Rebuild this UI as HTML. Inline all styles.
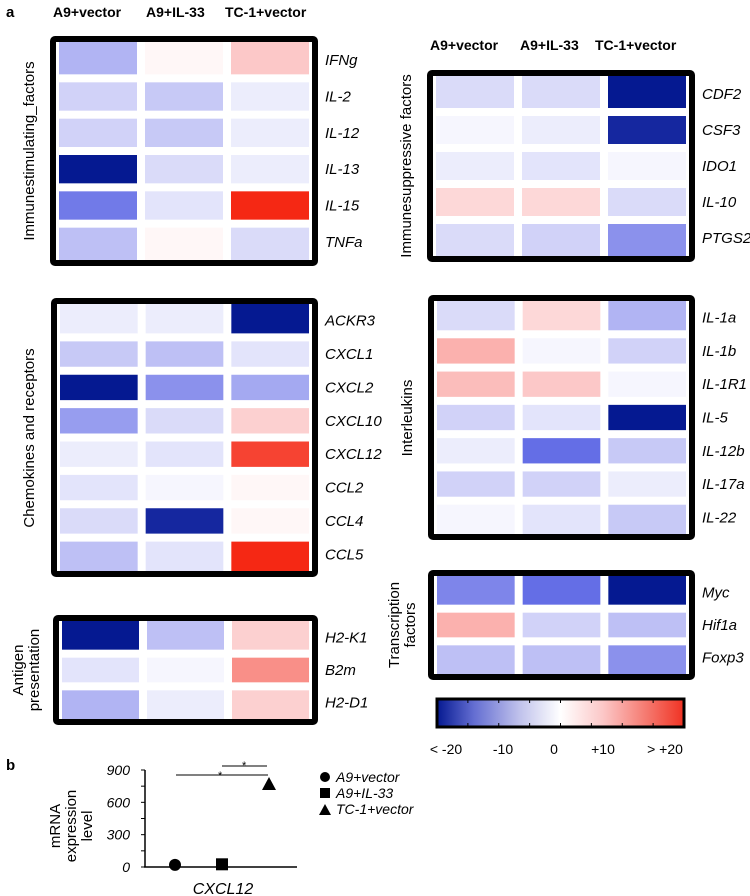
<!DOCTYPE html>
<html><head><meta charset="utf-8"><style>
body{margin:0;background:#fff;width:750px;height:896px;overflow:hidden}
svg{display:block;font-family:"Liberation Sans",sans-serif}
</style></head><body>
<svg id="fig" width="750" height="896" viewBox="0 0 750 896" xmlns="http://www.w3.org/2000/svg">
<defs>
<linearGradient id="cbar" x1="0" x2="1" y1="0" y2="0">
<stop offset="0" stop-color="rgb(5,25,145)"/><stop offset="0.15" stop-color="rgb(100,110,210)"/><stop offset="0.33" stop-color="rgb(190,192,235)"/><stop offset="0.5" stop-color="#fff"/><stop offset="0.67" stop-color="rgb(252,200,200)"/><stop offset="0.85" stop-color="rgb(245,120,110)"/><stop offset="1" stop-color="rgb(240,50,35)"/>
</linearGradient>
</defs>
<text x="6" y="17" font-size="15" font-weight="bold">a</text>
<g font-size="14" font-weight="bold">
<text x="53" y="17">A9+vector</text><text x="146" y="17">A9+IL-33</text><text x="225" y="17">TC-1+vector</text>
</g>
<g font-size="14" font-weight="bold">
<text x="430" y="50">A9+vector</text><text x="520" y="50">A9+IL-33</text><text x="595" y="50">TC-1+vector</text>
</g>
<g font-size="15">
<text transform="translate(34,151) rotate(-90)" text-anchor="middle">Immunestimulating_factors</text>
<text transform="translate(34,438) rotate(-90)" text-anchor="middle">Chemokines and receptors</text>
<text transform="translate(23,670) rotate(-90)" text-anchor="middle">Antigen</text>
<text transform="translate(39,670) rotate(-90)" text-anchor="middle">presentation</text>
<text transform="translate(411,166) rotate(-90)" text-anchor="middle">Immunesuppressive factors</text>
<text transform="translate(412,418) rotate(-90)" text-anchor="middle">Interleukins</text>
<text transform="translate(399,625) rotate(-90)" text-anchor="middle">Transcription</text>
<text transform="translate(415,625) rotate(-90)" text-anchor="middle">factors</text>
</g>
<g id="heat"></g>
<g>
<rect x="437" y="699" width="247" height="28" fill="url(#cbar)" stroke="#000" stroke-width="3"/>
<g id="cbticks"></g>
<g font-size="14" text-anchor="middle">
<text x="446" y="754">&lt; -20</text><text x="503" y="754">-10</text><text x="554" y="754">0</text><text x="603" y="754">+10</text><text x="665" y="754">&gt; +20</text>
</g>
</g>
<text x="6" y="770" font-size="15" font-weight="bold">b</text>
<g font-size="15" text-anchor="middle">
<text transform="translate(60,826) rotate(-90)">mRNA</text>
<text transform="translate(76,826) rotate(-90)">expression</text>
<text transform="translate(92,826) rotate(-90)">level</text>
</g>
<g id="scatter"></g>
<text x="223" y="894" font-size="16" font-style="italic" text-anchor="middle">CXCL12</text>
<g font-size="14" font-style="italic">
<circle cx="325" cy="777" r="5"/><text x="336" y="782">A9+vector</text>
<rect x="320" y="788" width="10" height="10"/><text x="336" y="798">A9+IL-33</text>
<polygon points="319,815 325,804 331,815"/><text x="336" y="814">TC-1+vector</text>
</g>
</svg>
<script>
const colKeys = ['A9+vector','A9+IL-33','TC-1+vector'];
const stimGenes = ['IFNg','IL-2','IL-12','IL-13','IL-15','TNFa'];
const stimA9 = [-8,-5,-5,-20,-13,-7];
const stimIL33 = [1,-6,-6,-4,-3,1];
const stimTC1 = [7,-2,-2,-2,20,-4];
const suppGenes = ['CDF2','CSF3','IDO1','IL-10','PTGS2'];
const suppA9 = [-4,-1,-2,5,-4];
const suppIL33 = [-4,-2,-3,5,-5];
const suppTC1 = [-20,-19,-1,-4,-11];
const chemGenes = ['ACKR3','CXCL1','CXCL2','CXCL10','CXCL12','CCL2','CCL4','CCL5'];
const chemA9 = [-2,-6,-20,-10,-2,-3,-4,-7];
const chemIL33 = [-2,-7,-11,-4,-3,-1,-19,-3];
const chemTC1 = [-20,-3,-9,6,18,1,1,20];
const ilGenes = ['IL-1a','IL-1b','IL-1R1','IL-5','IL-12b','IL-17a','IL-22'];
const ilA9 = [-4,9,8,-5,-2,-5,-1];
const ilIL33 = [5,-1,7,-3,-14,-5,-3];
const ilTC1 = [-8,-5,-1,-20,-6,-2,-6];
const tfGenes = ['Myc','Hif1a','Foxp3'];
const tfA9 = [-12,9,-7];
const tfIL33 = [-14,-5,-7];
const tfTC1 = [-20,-7,-11];
const agGenes = ['H2-K1','B2m','H2-D1'];
const agA9 = [-20,-3,-8];
const agIL33 = [-7,-1,-2];
const agTC1 = [6,12,6];
const cbTickVals = [-20,-15,-10,-5,0,5,10,15,20];
const scatterGroups = ['A9+vector','A9+IL-33','TC-1+vector'];
const scatterValues = [20,25,770];
const yTicks = [0,300,600,900];

const NS='http://www.w3.org/2000/svg';
function mk(tag,attrs,parent){const e=document.createElementNS(NS,tag);for(const k in attrs)e.setAttribute(k,attrs[k]);parent.appendChild(e);return e;}
const stops=[[-20,[5,25,145]],[-14,[100,110,230]],[-7,[190,192,245]],[0,[255,255,255]],[7,[252,200,200]],[14,[248,120,110]],[20,[245,40,20]]];
function color(v){v=Math.max(-20,Math.min(20,v));for(let i=0;i<stops.length-1;i++){const[a,ca]=stops[i],[b,cb]=stops[i+1];if(v<=b){const t=(v-a)/(b-a);return 'rgb('+ca.map((c,j)=>Math.round(c+(cb[j]-c)*t)).join(',')+')';}}return 'rgb(245,40,20)';}
const heat=document.getElementById('heat');
function panel(name,x,y,w,h,genes,cols){
  const g=mk('g',{},heat);
  
  
  const b=6,ix=x+b+3,iy=y+b,iw=w-2*b-6,ih=h-2*b,gap=8;
  const cw=(iw-2*gap)/3,rh=ih/genes.length;
  genes.forEach((gene,r)=>{
    cols.forEach((arr,c)=>{
      const cell=mk('rect',{x:ix+c*(cw+gap),y:iy+r*rh+(r?gap/2:0),width:cw,height:rh-(r?gap/2:0)-(r<genes.length-1?gap/2:0),fill:color(arr[r])},g);
      
      
    });
    const t=mk('text',{x:x+w+7,y:iy+r*rh+rh/2+5,'font-size':15,'font-style':'italic'},g);
    t.textContent=gene;
    
    
  });
  mk('rect',{x:x+b/2,y:y+b/2,width:w-b,height:h-b,fill:'none',stroke:'#000','stroke-width':b,rx:2},g);
}
panel('immunestimulating-heatmap',50,36,268,230,stimGenes,[stimA9,stimIL33,stimTC1]);
panel('immunesuppressive-heatmap',427,70,268,192,suppGenes,[suppA9,suppIL33,suppTC1]);
panel('chemokines-heatmap',51,298,267,279,chemGenes,[chemA9,chemIL33,chemTC1]);
panel('antigen-heatmap',53,615,265,110,agGenes,[agA9,agIL33,agTC1]);
panel('interleukins-heatmap',428,295,267,245,ilGenes,[ilA9,ilIL33,ilTC1]);
panel('transcription-heatmap',428,570,267,110,tfGenes,[tfA9,tfIL33,tfTC1]);

const cbt=document.getElementById('cbticks');
cbTickVals.forEach(v=>{const x=437+(v+20)/40*247;mk('line',{x1:x,x2:x,y1:699,y2:703,stroke:'#000','stroke-width':1},cbt);mk('line',{x1:x,x2:x,y1:723,y2:727,stroke:'#000','stroke-width':1},cbt);});

const sc=document.getElementById('scatter');
const yS=v=>867-v*(97/900);
const xS=i=>175+i*47;
const ax=mk('line',{x1:145,x2:145,y1:770,y2:867,stroke:'#000','stroke-width':1.5},sc);


const xa=mk('line',{x1:144,x2:297,y1:867,y2:867,stroke:'#000','stroke-width':1.5},sc);


for(let v=0;v<=900;v+=150){mk('line',{x1:141,x2:145,y1:yS(v),y2:yS(v),stroke:'#000','stroke-width':1},sc);}
yTicks.forEach(v=>{const t=mk('text',{x:130,y:yS(v)+5,'font-size':14,'font-style':'italic','text-anchor':'end'},sc);t.textContent=v;});
scatterValues.forEach((v,i)=>{
  const cx=xS(i),cy=yS(v);let m;
  if(i===0)m=mk('circle',{cx:cx,cy:cy,r:6},sc);
  else if(i===1)m=mk('rect',{x:cx-6,y:cy-6,width:12,height:12},sc);
  else m=mk('polygon',{points:(cx-7)+','+(cy+6)+' '+cx+','+(cy-7)+' '+(cx+7)+','+(cy+6)},sc);
  
  
});
mk('line',{x1:176,x2:268,y1:775,y2:775,stroke:'#000','stroke-width':1},sc);
mk('line',{x1:222,x2:267,y1:766,y2:766,stroke:'#000','stroke-width':1},sc);
const s1=mk('text',{x:218,y:779,'font-size':11},sc);s1.textContent='*';


const s2=mk('text',{x:242,y:769,'font-size':11},sc);s2.textContent='*';


</script>
</body></html>
